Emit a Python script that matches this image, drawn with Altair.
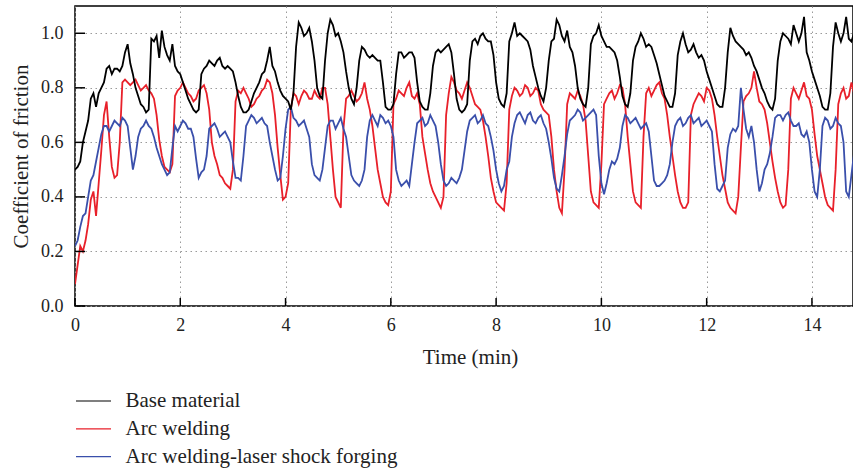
import altair as alt
import pandas as pd

# Coefficient of friction read at t = 0.0, 0.1, ... 14.8 min
base_material = [
    0.50, 0.53, 0.64, 0.76, 0.73, 0.80, 0.87, 0.85, 0.87, 0.88,
    0.96, 0.85, 0.77, 0.73, 0.72, 0.97, 0.91, 0.95, 0.90, 0.88,
    0.85, 0.79, 0.74, 0.71, 0.85, 0.88, 0.89, 0.90, 0.88, 0.88,
    0.86, 0.77, 0.71, 0.72, 0.78, 0.82, 0.86, 0.95, 0.86, 0.79,
    0.76, 0.72, 0.95, 1.02, 1.00, 0.97, 0.80, 0.76, 1.00, 1.03,
    1.00, 0.93, 0.80, 0.74, 0.90, 0.94, 0.91, 0.91, 0.90, 0.73,
    0.72, 0.85, 0.93, 0.92, 0.93, 0.82, 0.73, 0.72, 0.88, 0.94,
    0.94, 0.96, 0.85, 0.72, 0.72, 0.90, 0.98, 0.99, 0.98, 0.97,
    0.82, 0.74, 0.78, 1.00, 0.99, 0.99, 0.97, 0.88, 0.80, 0.75,
    0.90, 0.98, 1.03, 0.97, 0.95, 0.88, 0.76, 0.73, 0.96, 1.00,
    0.99, 0.95, 0.94, 0.90, 0.77, 0.73, 0.90, 0.97, 0.98, 0.96,
    0.92, 0.85, 0.77, 0.73, 0.78, 0.97, 0.96, 0.94, 0.93, 0.92,
    0.86, 0.80, 0.74, 0.73, 0.93, 0.99, 0.96, 0.94, 0.93, 0.88,
    0.83, 0.78, 0.73, 0.76, 0.97, 0.99, 0.96, 1.00, 1.00, 0.93,
    0.86, 0.80, 0.73, 0.72, 0.95, 1.00, 1.00, 0.98, 1.00,
]
# ... and at t = 0.05, 0.15, ... 14.75 min
base_material_half = [
    0.51, 0.60, 0.68, 0.78, 0.78, 0.82, 0.88, 0.87, 0.86, 0.93,
    0.89, 0.80, 0.74, 0.71, 0.98, 0.99, 1.01, 0.92, 0.96, 0.86,
    0.82, 0.76, 0.72, 0.72, 0.87, 0.90, 0.88, 0.91, 0.87, 0.87,
    0.82, 0.73, 0.71, 0.75, 0.80, 0.85, 0.90, 0.88, 0.82, 0.77,
    0.75, 0.78, 1.04, 0.99, 1.02, 0.90, 0.77, 0.90, 1.05, 0.99,
    0.97, 0.86, 0.76, 0.80, 0.95, 0.92, 0.92, 0.90, 0.82, 0.72,
    0.74, 0.93, 0.91, 0.93, 0.91, 0.75, 0.72, 0.78, 0.93, 0.93,
    0.95, 0.93, 0.76, 0.71, 0.74, 0.97, 0.96, 1.00, 0.97, 0.92,
    0.76, 0.73, 0.97, 1.04, 1.00, 0.98, 0.94, 0.84, 0.77, 0.80,
    0.97, 1.05, 0.99, 1.01, 0.93, 0.80, 0.74, 0.80, 0.99, 1.03,
    0.97, 0.95, 0.93, 0.84, 0.74, 0.78, 0.95, 1.00, 0.95, 0.95,
    0.89, 0.81, 0.75, 0.73, 0.92, 1.00, 0.93, 0.96, 0.91, 0.90,
    0.83, 0.77, 0.73, 0.80, 1.02, 0.97, 0.95, 0.92, 0.91, 0.86,
    0.80, 0.75, 0.72, 0.90, 1.00, 0.98, 1.03, 0.97, 1.06, 0.90,
    0.83, 0.77, 0.72, 0.78, 1.04, 0.97, 1.06, 0.97,
]
arc_welding = [
    0.08, 0.22, 0.24, 0.39, 0.33, 0.57, 0.75, 0.51, 0.48, 0.82,
    0.82, 0.82, 0.81, 0.80, 0.79, 0.76, 0.61, 0.51, 0.49, 0.77,
    0.80, 0.80, 0.77, 0.76, 0.80, 0.78, 0.60, 0.52, 0.47, 0.44,
    0.50, 0.79, 0.80, 0.76, 0.74, 0.77, 0.80, 0.82, 0.70, 0.48,
    0.40, 0.72, 0.77, 0.77, 0.78, 0.76, 0.77, 0.80, 0.74, 0.50,
    0.38, 0.65, 0.77, 0.77, 0.76, 0.82, 0.72, 0.58, 0.45, 0.38,
    0.42, 0.76, 0.78, 0.80, 0.77, 0.78, 0.62, 0.50, 0.42, 0.38,
    0.40, 0.78, 0.82, 0.78, 0.79, 0.80, 0.74, 0.72, 0.62, 0.47,
    0.38, 0.36, 0.45, 0.77, 0.79, 0.78, 0.80, 0.78, 0.79, 0.72,
    0.70, 0.50, 0.36, 0.50, 0.78, 0.76, 0.77, 0.68, 0.42, 0.37,
    0.52, 0.76, 0.79, 0.78, 0.80, 0.62, 0.42, 0.37, 0.62, 0.80,
    0.79, 0.82, 0.76, 0.62, 0.48, 0.38, 0.36, 0.70, 0.76, 0.77,
    0.80, 0.76, 0.62, 0.48, 0.38, 0.35, 0.40, 0.75, 0.78, 0.86,
    0.75, 0.72, 0.60, 0.47, 0.38, 0.37, 0.76, 0.78, 0.79, 0.77,
    0.72, 0.55, 0.45, 0.37, 0.35, 0.74, 0.80, 0.77, 0.78,
]
arc_welding_half = [
    0.15, 0.20, 0.30, 0.42, 0.45, 0.70, 0.62, 0.47, 0.60, 0.83,
    0.81, 0.83, 0.79, 0.81, 0.78, 0.70, 0.55, 0.50, 0.52, 0.79,
    0.82, 0.78, 0.75, 0.79, 0.81, 0.72, 0.55, 0.48, 0.45, 0.43,
    0.75, 0.78, 0.78, 0.73, 0.76, 0.79, 0.83, 0.78, 0.58, 0.39,
    0.45, 0.78, 0.74, 0.79, 0.76, 0.79, 0.76, 0.80, 0.62, 0.40,
    0.36, 0.76, 0.79, 0.75, 0.78, 0.76, 0.66, 0.50, 0.40, 0.37,
    0.74, 0.79, 0.77, 0.82, 0.76, 0.74, 0.56, 0.45, 0.40, 0.36,
    0.70, 0.84, 0.79, 0.76, 0.82, 0.77, 0.73, 0.68, 0.55, 0.42,
    0.37, 0.35, 0.72, 0.80, 0.77, 0.81, 0.77, 0.80, 0.74, 0.71,
    0.62, 0.42, 0.34, 0.74, 0.77, 0.79, 0.74, 0.55, 0.38, 0.36,
    0.74, 0.78, 0.76, 0.81, 0.74, 0.52, 0.38, 0.36, 0.78, 0.77,
    0.81, 0.78, 0.70, 0.55, 0.42, 0.36, 0.38, 0.74, 0.78, 0.75,
    0.79, 0.70, 0.55, 0.43, 0.36, 0.34, 0.58, 0.77, 0.80, 0.80,
    0.74, 0.67, 0.53, 0.42, 0.36, 0.50, 0.80, 0.76, 0.82, 0.76,
    0.63, 0.50, 0.40, 0.36, 0.50, 0.78, 0.76, 0.82,
]
arc_laser = [
    0.22, 0.29, 0.34, 0.46, 0.53, 0.63, 0.66, 0.66, 0.67, 0.69,
    0.66, 0.50, 0.62, 0.66, 0.66, 0.62, 0.55, 0.50, 0.49, 0.66,
    0.66, 0.67, 0.65, 0.54, 0.49, 0.55, 0.66, 0.65, 0.63, 0.62,
    0.53, 0.47, 0.55, 0.68, 0.69, 0.68, 0.67, 0.60, 0.50, 0.47,
    0.65, 0.73, 0.68, 0.67, 0.65, 0.52, 0.47, 0.50, 0.66, 0.68,
    0.67, 0.65, 0.55, 0.46, 0.44, 0.50, 0.68, 0.68, 0.70, 0.67,
    0.66, 0.50, 0.44, 0.46, 0.52, 0.67, 0.69, 0.67, 0.68, 0.60,
    0.46, 0.45, 0.46, 0.47, 0.57, 0.68, 0.70, 0.68, 0.67, 0.62,
    0.50, 0.42, 0.50, 0.62, 0.70, 0.69, 0.70, 0.68, 0.69, 0.67,
    0.60, 0.47, 0.42, 0.55, 0.68, 0.70, 0.71, 0.69, 0.71, 0.70,
    0.45, 0.45, 0.53, 0.54, 0.66, 0.69, 0.68, 0.67, 0.66, 0.64,
    0.46, 0.44, 0.46, 0.52, 0.66, 0.69, 0.67, 0.70, 0.68, 0.66,
    0.68, 0.64, 0.43, 0.44, 0.58, 0.65, 0.66, 0.72, 0.62, 0.60,
    0.42, 0.50, 0.56, 0.69, 0.70, 0.70, 0.68, 0.66, 0.63, 0.64,
    0.50, 0.40, 0.66, 0.68, 0.66, 0.67, 0.60, 0.40, 0.56,
]
arc_laser_half = [
    0.24, 0.33, 0.40, 0.48, 0.58, 0.66, 0.64, 0.68, 0.66, 0.68,
    0.58, 0.55, 0.65, 0.68, 0.65, 0.58, 0.52, 0.48, 0.58, 0.64,
    0.68, 0.65, 0.62, 0.47, 0.50, 0.65, 0.67, 0.62, 0.64, 0.60,
    0.47, 0.46, 0.66, 0.70, 0.67, 0.69, 0.66, 0.55, 0.46, 0.55,
    0.72, 0.69, 0.66, 0.68, 0.62, 0.48, 0.46, 0.58, 0.68, 0.65,
    0.69, 0.62, 0.48, 0.45, 0.46, 0.62, 0.70, 0.66, 0.69, 0.68,
    0.62, 0.46, 0.45, 0.44, 0.60, 0.68, 0.66, 0.70, 0.66, 0.52,
    0.44, 0.47, 0.45, 0.50, 0.64, 0.69, 0.67, 0.70, 0.66, 0.57,
    0.45, 0.44, 0.53, 0.67, 0.71, 0.67, 0.71, 0.67, 0.70, 0.65,
    0.54, 0.43, 0.48, 0.63, 0.69, 0.72, 0.68, 0.70, 0.72, 0.55,
    0.41, 0.50, 0.52, 0.58, 0.70, 0.67, 0.69, 0.65, 0.67, 0.55,
    0.44, 0.45, 0.48, 0.60, 0.68, 0.66, 0.69, 0.67, 0.69, 0.67,
    0.66, 0.52, 0.42, 0.46, 0.63, 0.64, 0.80, 0.65, 0.66, 0.50,
    0.45, 0.52, 0.62, 0.70, 0.68, 0.71, 0.66, 0.67, 0.62, 0.60,
    0.42, 0.50, 0.69, 0.65, 0.69, 0.66, 0.42, 0.48,
]

series_names = ["Base material", "Arc welding", "Arc welding-laser shock forging"]
series_colors = ["#000000", "#e8202a", "#3a4fab"]
x_ticks = [0, 2, 4, 6, 8, 10, 12, 14]
y_ticks = [0.0, 0.2, 0.4, 0.6, 0.8, 1.0]

rows = []
for name, whole, half in zip(
    series_names,
    [base_material, arc_welding, arc_laser],
    [base_material_half, arc_welding_half, arc_laser_half],
):
    for i, v in enumerate(whole):
        rows.append({"t": round(i * 0.1, 2), "v": v, "series": name})
    for i, v in enumerate(half):
        rows.append({"t": round(i * 0.1 + 0.05, 2), "v": v, "series": name})
df = pd.DataFrame(rows).sort_values(["series", "t"]).reset_index(drop=True)

FONT = "Liberation Serif"
x_scale = alt.Scale(domain=[0, 14.78], nice=False, zero=False)
y_scale = alt.Scale(domain=[0, 1.1], nice=False, zero=False)

color = alt.Color(
    "series:N",
    scale=alt.Scale(domain=series_names, range=series_colors),
    legend=alt.Legend(
        title=None,
        orient="none",
        legendX=8,
        legendY=384.5,
        symbolType="M-3.5,0H3.5",
        symbolSize=100,
        symbolStrokeWidth=1.2,
        labelFont=FONT,
        labelFontSize=21,
        labelColor="#222222",
        labelOffset=21.5,
        labelLimit=0,
        rowPadding=5.8,
        padding=0,
        direction="vertical",
    ),
)

x_enc = alt.X(
    "t:Q",
    scale=x_scale,
    axis=alt.Axis(
        values=x_ticks, format="d", title="Time (min)", grid=True,
        ticks=False, domain=False, labelPadding=10, labelFlush=False,
        titleX=395, titleY=51, titleBaseline="middle",
    ),
)
y_enc = alt.Y(
    "v:Q",
    scale=y_scale,
    axis=alt.Axis(
        values=y_ticks, format=".1f", title="Coefficient of friction", grid=True,
        ticks=False, domain=False, labelPadding=12, labelFlush=False,
        titleX=-54, titleY=150, titleAngle=270, titleAlign="center",
        titleBaseline="middle",
    ),
)

def series_layer(name):
    return (
        alt.Chart(df)
        .transform_filter(alt.datum.series == name)
        .mark_line(strokeWidth=1.8, clip=True)
        .encode(x=x_enc, y=y_enc, color=color, order="t:Q")
    )

lines = [series_layer("Arc welding"), series_layer("Arc welding-laser shock forging"),
         series_layer("Base material")]

xt = alt.Chart(pd.DataFrame({"xt": x_ticks})).mark_rule(color="black", strokeWidth=1.5).encode(
    x=alt.X("xt:Q", scale=x_scale), y=alt.value(300), y2=alt.value(292)
)
yt = alt.Chart(pd.DataFrame({"yt": y_ticks})).mark_rule(color="black", strokeWidth=1.5).encode(
    y=alt.Y("yt:Q", scale=y_scale), x=alt.value(0), x2=alt.value(10)
)

chart = (
    alt.layer(*lines, xt, yt)
    .properties(
        width=778, height=300,
        autosize=alt.AutoSizeParams(type="none"),
        padding={"left": 75, "top": 6, "right": 0, "bottom": 164},
    )
    .configure(background="white")
    .configure_view(stroke="black", strokeWidth=1.5)
    .configure_axis(
        labelFont=FONT, labelFontSize=18, labelColor="#222222",
        titleFont=FONT, titleFontSize=21, titleFontWeight="normal", titleColor="#222222",
        gridColor="#9a9a9a", gridDash=[1.5, 3.5], gridWidth=1,
    )
)

chart.save("out.html", embed_options={"renderer": "svg", "actions": False})
